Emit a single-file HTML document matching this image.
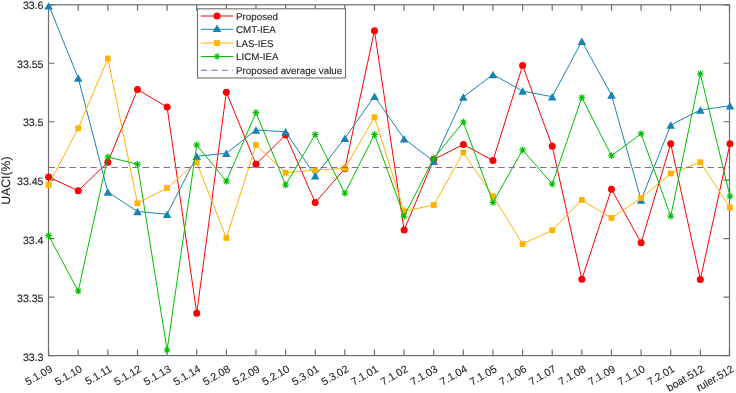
<!DOCTYPE html>
<html><head><meta charset="utf-8"><style>
html,body{margin:0;padding:0;background:#fff;}
body{width:736px;height:393px;overflow:hidden;}
svg{display:block;will-change:transform;}
text{font-family:"Liberation Sans",sans-serif;font-size:10.6px;fill:#262626;stroke:#262626;stroke-width:0.12px;text-rendering:geometricPrecision;}
</style></head><body>
<svg width="736" height="393" viewBox="0 0 736 393">
<rect x="0" y="0" width="736" height="393" fill="#fff"/>
<path d="M48.60 355.60V349.60M48.60 4.80V10.80M78.22 355.60V349.60M78.22 4.80V10.80M107.85 355.60V349.60M107.85 4.80V10.80M137.47 355.60V349.60M137.47 4.80V10.80M167.10 355.60V349.60M167.10 4.80V10.80M196.72 355.60V349.60M196.72 4.80V10.80M226.35 355.60V349.60M226.35 4.80V10.80M255.97 355.60V349.60M255.97 4.80V10.80M285.60 355.60V349.60M285.60 4.80V10.80M315.23 355.60V349.60M315.23 4.80V10.80M344.85 355.60V349.60M344.85 4.80V10.80M374.48 355.60V349.60M374.48 4.80V10.80M404.10 355.60V349.60M404.10 4.80V10.80M433.73 355.60V349.60M433.73 4.80V10.80M463.35 355.60V349.60M463.35 4.80V10.80M492.98 355.60V349.60M492.98 4.80V10.80M522.60 355.60V349.60M522.60 4.80V10.80M552.23 355.60V349.60M552.23 4.80V10.80M581.85 355.60V349.60M581.85 4.80V10.80M611.48 355.60V349.60M611.48 4.80V10.80M641.10 355.60V349.60M641.10 4.80V10.80M670.73 355.60V349.60M670.73 4.80V10.80M700.35 355.60V349.60M700.35 4.80V10.80M729.50 355.60V349.60M729.50 4.80V10.80M48.50 4.80H54.50M729.50 4.80H723.50M48.50 63.27H54.50M729.50 63.27H723.50M48.50 121.73H54.50M729.50 121.73H723.50M48.50 180.20H54.50M729.50 180.20H723.50M48.50 238.67H54.50M729.50 238.67H723.50M48.50 297.13H54.50M729.50 297.13H723.50M48.50 355.60H54.50M729.50 355.60H723.50" stroke="#6e6e6e" stroke-width="1.2" fill="none"/>
<rect x="48.5" y="4.8" width="681.0" height="350.8" stroke="#6e6e6e" stroke-width="1.2" fill="none"/>
<polyline points="48.60,177.00 78.22,190.75 107.85,162.25 137.47,89.50 167.10,107.00 196.72,313.25 226.35,92.25 255.97,164.25 285.60,135.00 315.23,202.50 344.85,168.75 374.48,30.75 404.10,230.00 433.73,159.50 463.35,144.50 492.98,160.50 522.60,65.50 552.23,146.25 581.85,279.25 611.48,189.25 641.10,242.75 670.73,143.75 700.35,279.50 729.98,143.75" stroke="#ff0000" stroke-width="1.0" fill="none" stroke-linejoin="round"/>
<circle cx="48.60" cy="177.00" r="3.5" fill="#ff0000"/>
<circle cx="78.22" cy="190.75" r="3.5" fill="#ff0000"/>
<circle cx="107.85" cy="162.25" r="3.5" fill="#ff0000"/>
<circle cx="137.47" cy="89.50" r="3.5" fill="#ff0000"/>
<circle cx="167.10" cy="107.00" r="3.5" fill="#ff0000"/>
<circle cx="196.72" cy="313.25" r="3.5" fill="#ff0000"/>
<circle cx="226.35" cy="92.25" r="3.5" fill="#ff0000"/>
<circle cx="255.97" cy="164.25" r="3.5" fill="#ff0000"/>
<circle cx="285.60" cy="135.00" r="3.5" fill="#ff0000"/>
<circle cx="315.23" cy="202.50" r="3.5" fill="#ff0000"/>
<circle cx="344.85" cy="168.75" r="3.5" fill="#ff0000"/>
<circle cx="374.48" cy="30.75" r="3.5" fill="#ff0000"/>
<circle cx="404.10" cy="230.00" r="3.5" fill="#ff0000"/>
<circle cx="433.73" cy="159.50" r="3.5" fill="#ff0000"/>
<circle cx="463.35" cy="144.50" r="3.5" fill="#ff0000"/>
<circle cx="492.98" cy="160.50" r="3.5" fill="#ff0000"/>
<circle cx="522.60" cy="65.50" r="3.5" fill="#ff0000"/>
<circle cx="552.23" cy="146.25" r="3.5" fill="#ff0000"/>
<circle cx="581.85" cy="279.25" r="3.5" fill="#ff0000"/>
<circle cx="611.48" cy="189.25" r="3.5" fill="#ff0000"/>
<circle cx="641.10" cy="242.75" r="3.5" fill="#ff0000"/>
<circle cx="670.73" cy="143.75" r="3.5" fill="#ff0000"/>
<circle cx="700.35" cy="279.50" r="3.5" fill="#ff0000"/>
<circle cx="729.98" cy="143.75" r="3.5" fill="#ff0000"/>
<polyline points="48.60,4.80 78.22,78.00 107.85,192.00 137.47,211.50 167.10,214.25 196.72,156.25 226.35,153.25 255.97,130.00 285.60,131.75 315.23,175.75 344.85,138.25 374.48,96.25 404.10,138.75 433.73,161.25 463.35,97.00 492.98,74.50 522.60,91.00 552.23,96.75 581.85,41.25 611.48,95.00 641.10,200.00 670.73,125.00 700.35,110.00 729.98,105.75" stroke="#1883b2" stroke-width="1.0" fill="none" stroke-linejoin="round"/>
<path d="M48.60 2.20L52.90 9.60L44.30 9.60Z" fill="#1883b2"/>
<path d="M78.22 74.30L82.52 81.70L73.92 81.70Z" fill="#1883b2"/>
<path d="M107.85 188.30L112.15 195.70L103.55 195.70Z" fill="#1883b2"/>
<path d="M137.47 207.80L141.78 215.20L133.17 215.20Z" fill="#1883b2"/>
<path d="M167.10 210.55L171.40 217.95L162.80 217.95Z" fill="#1883b2"/>
<path d="M196.72 152.55L201.03 159.95L192.42 159.95Z" fill="#1883b2"/>
<path d="M226.35 149.55L230.65 156.95L222.05 156.95Z" fill="#1883b2"/>
<path d="M255.97 126.30L260.27 133.70L251.67 133.70Z" fill="#1883b2"/>
<path d="M285.60 128.05L289.90 135.45L281.30 135.45Z" fill="#1883b2"/>
<path d="M315.23 172.05L319.53 179.45L310.93 179.45Z" fill="#1883b2"/>
<path d="M344.85 134.55L349.15 141.95L340.55 141.95Z" fill="#1883b2"/>
<path d="M374.48 92.55L378.78 99.95L370.18 99.95Z" fill="#1883b2"/>
<path d="M404.10 135.05L408.40 142.45L399.80 142.45Z" fill="#1883b2"/>
<path d="M433.73 157.55L438.03 164.95L429.43 164.95Z" fill="#1883b2"/>
<path d="M463.35 93.30L467.65 100.70L459.05 100.70Z" fill="#1883b2"/>
<path d="M492.98 70.80L497.28 78.20L488.68 78.20Z" fill="#1883b2"/>
<path d="M522.60 87.30L526.90 94.70L518.30 94.70Z" fill="#1883b2"/>
<path d="M552.23 93.05L556.52 100.45L547.93 100.45Z" fill="#1883b2"/>
<path d="M581.85 37.55L586.15 44.95L577.55 44.95Z" fill="#1883b2"/>
<path d="M611.48 91.30L615.77 98.70L607.18 98.70Z" fill="#1883b2"/>
<path d="M641.10 196.30L645.40 203.70L636.80 203.70Z" fill="#1883b2"/>
<path d="M670.73 121.30L675.02 128.70L666.43 128.70Z" fill="#1883b2"/>
<path d="M700.35 106.30L704.65 113.70L696.05 113.70Z" fill="#1883b2"/>
<path d="M729.98 102.05L734.27 109.45L725.68 109.45Z" fill="#1883b2"/>
<polyline points="48.60,185.00 78.22,128.25 107.85,58.50 137.47,203.25 167.10,188.00 196.72,162.50 226.35,238.00 255.97,145.00 285.60,172.75 315.23,170.00 344.85,168.50 374.48,117.25 404.10,211.25 433.73,205.00 463.35,152.50 492.98,196.25 522.60,244.00 552.23,230.25 581.85,200.00 611.48,218.00 641.10,198.00 670.73,173.50 700.35,162.25 729.98,207.50" stroke="#ffb300" stroke-width="1.0" fill="none" stroke-linejoin="round"/>
<rect x="45.70" y="182.10" width="5.8" height="5.8" fill="#ffb300"/>
<rect x="75.32" y="125.35" width="5.8" height="5.8" fill="#ffb300"/>
<rect x="104.95" y="55.60" width="5.8" height="5.8" fill="#ffb300"/>
<rect x="134.57" y="200.35" width="5.8" height="5.8" fill="#ffb300"/>
<rect x="164.20" y="185.10" width="5.8" height="5.8" fill="#ffb300"/>
<rect x="193.82" y="159.60" width="5.8" height="5.8" fill="#ffb300"/>
<rect x="223.45" y="235.10" width="5.8" height="5.8" fill="#ffb300"/>
<rect x="253.07" y="142.10" width="5.8" height="5.8" fill="#ffb300"/>
<rect x="282.70" y="169.85" width="5.8" height="5.8" fill="#ffb300"/>
<rect x="312.33" y="167.10" width="5.8" height="5.8" fill="#ffb300"/>
<rect x="341.95" y="165.60" width="5.8" height="5.8" fill="#ffb300"/>
<rect x="371.58" y="114.35" width="5.8" height="5.8" fill="#ffb300"/>
<rect x="401.20" y="208.35" width="5.8" height="5.8" fill="#ffb300"/>
<rect x="430.83" y="202.10" width="5.8" height="5.8" fill="#ffb300"/>
<rect x="460.45" y="149.60" width="5.8" height="5.8" fill="#ffb300"/>
<rect x="490.08" y="193.35" width="5.8" height="5.8" fill="#ffb300"/>
<rect x="519.70" y="241.10" width="5.8" height="5.8" fill="#ffb300"/>
<rect x="549.33" y="227.35" width="5.8" height="5.8" fill="#ffb300"/>
<rect x="578.95" y="197.10" width="5.8" height="5.8" fill="#ffb300"/>
<rect x="608.58" y="215.10" width="5.8" height="5.8" fill="#ffb300"/>
<rect x="638.20" y="195.10" width="5.8" height="5.8" fill="#ffb300"/>
<rect x="667.83" y="170.60" width="5.8" height="5.8" fill="#ffb300"/>
<rect x="697.45" y="159.35" width="5.8" height="5.8" fill="#ffb300"/>
<rect x="727.08" y="204.60" width="5.8" height="5.8" fill="#ffb300"/>
<polyline points="48.60,235.50 78.22,291.00 107.85,157.00 137.47,164.25 167.10,350.00 196.72,145.00 226.35,181.25 255.97,112.50 285.60,185.00 315.23,134.50 344.85,193.25 374.48,134.50 404.10,216.25 433.73,158.25 463.35,122.00 492.98,202.50 522.60,150.00 552.23,184.00 581.85,97.50 611.48,155.75 641.10,133.75 670.73,216.25 700.35,73.75 729.98,196.25" stroke="#00bf00" stroke-width="1.0" fill="none" stroke-linejoin="round"/>
<path d="M45.20 235.50H52.00M48.60 232.10V238.90M46.15 233.05L51.05 237.95M46.15 237.95L51.05 233.05" stroke="#00bf00" stroke-width="1.1" fill="none"/>
<path d="M74.82 291.00H81.62M78.22 287.60V294.40M75.78 288.55L80.67 293.45M75.78 293.45L80.67 288.55" stroke="#00bf00" stroke-width="1.1" fill="none"/>
<path d="M104.45 157.00H111.25M107.85 153.60V160.40M105.40 154.55L110.30 159.45M105.40 159.45L110.30 154.55" stroke="#00bf00" stroke-width="1.1" fill="none"/>
<path d="M134.07 164.25H140.88M137.47 160.85V167.65M135.03 161.80L139.92 166.70M135.03 166.70L139.92 161.80" stroke="#00bf00" stroke-width="1.1" fill="none"/>
<path d="M163.70 350.00H170.50M167.10 346.60V353.40M164.65 347.55L169.55 352.45M164.65 352.45L169.55 347.55" stroke="#00bf00" stroke-width="1.1" fill="none"/>
<path d="M193.32 145.00H200.12M196.72 141.60V148.40M194.28 142.55L199.17 147.45M194.28 147.45L199.17 142.55" stroke="#00bf00" stroke-width="1.1" fill="none"/>
<path d="M222.95 181.25H229.75M226.35 177.85V184.65M223.90 178.80L228.80 183.70M223.90 183.70L228.80 178.80" stroke="#00bf00" stroke-width="1.1" fill="none"/>
<path d="M252.57 112.50H259.38M255.97 109.10V115.90M253.53 110.05L258.42 114.95M253.53 114.95L258.42 110.05" stroke="#00bf00" stroke-width="1.1" fill="none"/>
<path d="M282.20 185.00H289.00M285.60 181.60V188.40M283.15 182.55L288.05 187.45M283.15 187.45L288.05 182.55" stroke="#00bf00" stroke-width="1.1" fill="none"/>
<path d="M311.83 134.50H318.62M315.23 131.10V137.90M312.78 132.05L317.67 136.95M312.78 136.95L317.67 132.05" stroke="#00bf00" stroke-width="1.1" fill="none"/>
<path d="M341.45 193.25H348.25M344.85 189.85V196.65M342.40 190.80L347.30 195.70M342.40 195.70L347.30 190.80" stroke="#00bf00" stroke-width="1.1" fill="none"/>
<path d="M371.08 134.50H377.88M374.48 131.10V137.90M372.03 132.05L376.92 136.95M372.03 136.95L376.92 132.05" stroke="#00bf00" stroke-width="1.1" fill="none"/>
<path d="M400.70 216.25H407.50M404.10 212.85V219.65M401.65 213.80L406.55 218.70M401.65 218.70L406.55 213.80" stroke="#00bf00" stroke-width="1.1" fill="none"/>
<path d="M430.33 158.25H437.12M433.73 154.85V161.65M431.28 155.80L436.17 160.70M431.28 160.70L436.17 155.80" stroke="#00bf00" stroke-width="1.1" fill="none"/>
<path d="M459.95 122.00H466.75M463.35 118.60V125.40M460.90 119.55L465.80 124.45M460.90 124.45L465.80 119.55" stroke="#00bf00" stroke-width="1.1" fill="none"/>
<path d="M489.58 202.50H496.38M492.98 199.10V205.90M490.53 200.05L495.42 204.95M490.53 204.95L495.42 200.05" stroke="#00bf00" stroke-width="1.1" fill="none"/>
<path d="M519.20 150.00H526.00M522.60 146.60V153.40M520.15 147.55L525.05 152.45M520.15 152.45L525.05 147.55" stroke="#00bf00" stroke-width="1.1" fill="none"/>
<path d="M548.83 184.00H555.62M552.23 180.60V187.40M549.78 181.55L554.67 186.45M549.78 186.45L554.67 181.55" stroke="#00bf00" stroke-width="1.1" fill="none"/>
<path d="M578.45 97.50H585.25M581.85 94.10V100.90M579.40 95.05L584.30 99.95M579.40 99.95L584.30 95.05" stroke="#00bf00" stroke-width="1.1" fill="none"/>
<path d="M608.08 155.75H614.88M611.48 152.35V159.15M609.03 153.30L613.92 158.20M609.03 158.20L613.92 153.30" stroke="#00bf00" stroke-width="1.1" fill="none"/>
<path d="M637.70 133.75H644.50M641.10 130.35V137.15M638.65 131.30L643.55 136.20M638.65 136.20L643.55 131.30" stroke="#00bf00" stroke-width="1.1" fill="none"/>
<path d="M667.33 216.25H674.12M670.73 212.85V219.65M668.28 213.80L673.17 218.70M668.28 218.70L673.17 213.80" stroke="#00bf00" stroke-width="1.1" fill="none"/>
<path d="M696.95 73.75H703.75M700.35 70.35V77.15M697.90 71.30L702.80 76.20M697.90 76.20L702.80 71.30" stroke="#00bf00" stroke-width="1.1" fill="none"/>
<path d="M726.58 196.25H733.38M729.98 192.85V199.65M727.53 193.80L732.42 198.70M727.53 198.70L732.42 193.80" stroke="#00bf00" stroke-width="1.1" fill="none"/>
<line x1="48.5" y1="167.5" x2="729.5" y2="167.5" stroke="#8566b5" stroke-width="1.1" stroke-dasharray="6.4,4.06"/>
<text x="43.5" y="8.80" text-anchor="end">33.6</text>
<text x="43.5" y="67.67" text-anchor="end">33.55</text>
<text x="43.5" y="125.83" text-anchor="end">33.5</text>
<text x="43.5" y="184.80" text-anchor="end">33.45</text>
<text x="43.5" y="243.67" text-anchor="end">33.4</text>
<text x="43.5" y="301.73" text-anchor="end">33.35</text>
<text x="43.5" y="360.65" text-anchor="end">33.3</text>
<text x="0" y="0" text-anchor="end" transform="translate(49.50,364.40) rotate(-30) translate(0,7.63)">5.1.09</text>
<text x="0" y="0" text-anchor="end" transform="translate(79.12,364.40) rotate(-30) translate(0,7.63)">5.1.10</text>
<text x="0" y="0" text-anchor="end" transform="translate(108.75,364.40) rotate(-30) translate(0,7.63)">5.1.11</text>
<text x="0" y="0" text-anchor="end" transform="translate(138.38,364.40) rotate(-30) translate(0,7.63)">5.1.12</text>
<text x="0" y="0" text-anchor="end" transform="translate(168.00,364.40) rotate(-30) translate(0,7.63)">5.1.13</text>
<text x="0" y="0" text-anchor="end" transform="translate(197.62,364.40) rotate(-30) translate(0,7.63)">5.1.14</text>
<text x="0" y="0" text-anchor="end" transform="translate(227.25,364.40) rotate(-30) translate(0,7.63)">5.2.08</text>
<text x="0" y="0" text-anchor="end" transform="translate(256.88,364.40) rotate(-30) translate(0,7.63)">5.2.09</text>
<text x="0" y="0" text-anchor="end" transform="translate(286.50,364.40) rotate(-30) translate(0,7.63)">5.2.10</text>
<text x="0" y="0" text-anchor="end" transform="translate(316.12,364.40) rotate(-30) translate(0,7.63)">5.3.01</text>
<text x="0" y="0" text-anchor="end" transform="translate(345.75,364.40) rotate(-30) translate(0,7.63)">5.3.02</text>
<text x="0" y="0" text-anchor="end" transform="translate(375.38,364.40) rotate(-30) translate(0,7.63)">7.1.01</text>
<text x="0" y="0" text-anchor="end" transform="translate(405.00,364.40) rotate(-30) translate(0,7.63)">7.1.02</text>
<text x="0" y="0" text-anchor="end" transform="translate(434.62,364.40) rotate(-30) translate(0,7.63)">7.1.03</text>
<text x="0" y="0" text-anchor="end" transform="translate(464.25,364.40) rotate(-30) translate(0,7.63)">7.1.04</text>
<text x="0" y="0" text-anchor="end" transform="translate(493.88,364.40) rotate(-30) translate(0,7.63)">7.1.05</text>
<text x="0" y="0" text-anchor="end" transform="translate(523.50,364.40) rotate(-30) translate(0,7.63)">7.1.06</text>
<text x="0" y="0" text-anchor="end" transform="translate(553.12,364.40) rotate(-30) translate(0,7.63)">7.1.07</text>
<text x="0" y="0" text-anchor="end" transform="translate(582.75,364.40) rotate(-30) translate(0,7.63)">7.1.08</text>
<text x="0" y="0" text-anchor="end" transform="translate(612.38,364.40) rotate(-30) translate(0,7.63)">7.1.09</text>
<text x="0" y="0" text-anchor="end" transform="translate(642.00,364.40) rotate(-30) translate(0,7.63)">7.1.10</text>
<text x="0" y="0" text-anchor="end" transform="translate(671.62,364.40) rotate(-30) translate(0,7.63)">7.2.01</text>
<text x="0" y="0" text-anchor="end" transform="translate(701.25,364.40) rotate(-30) translate(0,7.63)">boat.512</text>
<text x="0" y="0" text-anchor="end" transform="translate(730.88,364.40) rotate(-30) translate(0,7.63)">ruler.512</text>
<text x="0" y="0" text-anchor="middle" font-size="12.3" transform="translate(9.8,180.6) rotate(-90)" style="font-size:12.3px">UACI(%)</text>
<rect x="197.5" y="8.8" width="148.0" height="69.2" fill="#fff" stroke="#6e6e6e" stroke-width="1.1"/>
<line x1="200.8" y1="16.0" x2="233.2" y2="16.0" stroke="#ff0000" stroke-width="1.0"/>
<circle cx="217.00" cy="16.00" r="3.5" fill="#ff0000"/>
<text x="236.0" y="19.60" style="font-size:9.8px">Proposed</text>
<line x1="200.8" y1="29.3" x2="233.2" y2="29.3" stroke="#1883b2" stroke-width="1.0"/>
<path d="M217.00 24.50L221.30 31.90L212.70 31.90Z" fill="#1883b2"/>
<text x="236.0" y="32.90" style="font-size:9.8px">CMT-IEA</text>
<line x1="200.8" y1="43.0" x2="233.2" y2="43.0" stroke="#ffb300" stroke-width="1.0"/>
<rect x="214.10" y="40.10" width="5.8" height="5.8" fill="#ffb300"/>
<text x="236.0" y="46.60" style="font-size:9.8px">LAS-IES</text>
<line x1="200.8" y1="56.5" x2="233.2" y2="56.5" stroke="#00bf00" stroke-width="1.0"/>
<path d="M213.60 56.50H220.40M217.00 53.10V59.90M214.55 54.05L219.45 58.95M214.55 58.95L219.45 54.05" stroke="#00bf00" stroke-width="1.1" fill="none"/>
<text x="236.0" y="60.10" style="font-size:9.8px">LICM-IEA</text>
<line x1="200.8" y1="70.2" x2="233.2" y2="70.2" stroke="#8566b5" stroke-width="1.1" stroke-dasharray="6.4,4.06"/>
<text x="236.0" y="73.80" style="font-size:9.8px">Proposed average value</text>
</svg>
</body></html>
